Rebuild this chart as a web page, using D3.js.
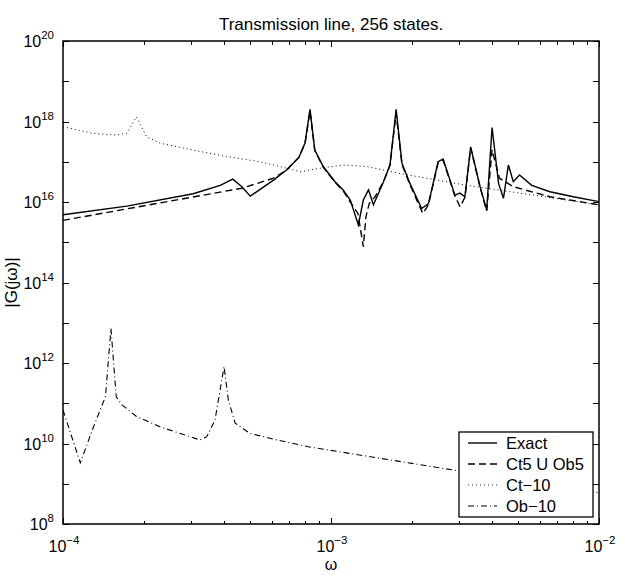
<!DOCTYPE html>
<html lang="en">
<head>
<meta charset="utf-8">
<title>Transmission line, 256 states.</title>
<style>
body {
  margin: 0;
  background: #fff;
}
svg text {
  font-family: "Liberation Sans", Arial, sans-serif;
  fill: #000;
}
.axis line {
  stroke: #000;
  stroke-width: 1;
  shape-rendering: crispEdges;
}
.curve {
  fill: none;
  stroke: #000;
}
</style>
</head>
<body>
<div id="chart"></div>
<script src="https://cdn.jsdelivr.net/npm/d3@7/dist/d3.min.js"></script>
<script>
// values
var exactW = [1.0e-4, 1.73e-4, 3.06e-4, 3.86e-4, 4.3e-4, 4.65e-4, 5.0e-4, 6.1e-4, 6.84e-4, 7.6e-4,
  8.0e-4, 8.35e-4, 8.7e-4, 9.35e-4, 1.035e-3, 1.11e-3, 1.18e-3, 1.265e-3, 1.32e-3, 1.38e-3,
  1.44e-3, 1.57e-3, 1.66e-3, 1.75e-3, 1.84e-3, 1.97e-3, 2.18e-3, 2.31e-3, 2.51e-3, 2.62e-3,
  2.9e-3, 3.03e-3, 3.16e-3, 3.32e-3, 3.6e-3, 3.81e-3, 3.99e-3, 4.22e-3, 4.4e-3, 4.59e-3,
  4.79e-3, 5.05e-3, 5.61e-3, 6.56e-3, 8.02e-3, 1.0e-2];
var exactG = [4.8e15, 7.9e15, 1.6e16, 2.6e16, 3.7e16, 2.4e16, 1.4e16, 3.5e16, 6.3e16, 1.3e17,
  2.9e17, 2.0e18, 1.95e17, 7.6e16, 3.2e16, 2.0e16, 1.12e16, 2.7e15, 1.12e16, 2.0e16,
  8.5e15, 3.2e16, 8.3e16, 2.0e18, 9.1e16, 2.9e16, 6.9e15, 9.1e15, 1.0e17, 1.17e17,
  1.48e16, 1.66e16, 1.35e16, 2.34e17, 2.4e16, 6.3e15, 7.1e17, 2.9e16, 1.23e16, 8.3e16,
  3.2e16, 4.7e16, 2.6e16, 1.8e16, 1.35e16, 1.02e16];

var ct5W = [1.0e-4, 4.65e-4, 6.1e-4, 6.84e-4, 7.6e-4, 8.0e-4, 8.35e-4, 8.7e-4, 9.35e-4, 1.035e-3,
  1.11e-3, 1.18e-3, 1.26e-3, 1.32e-3, 1.35e-3, 1.39e-3, 1.46e-3, 1.57e-3, 1.66e-3, 1.75e-3,
  1.84e-3, 1.97e-3, 2.2e-3, 2.31e-3, 2.51e-3, 2.62e-3, 2.9e-3, 3.03e-3, 3.16e-3, 3.32e-3,
  3.6e-3, 3.81e-3, 3.99e-3, 4.25e-3, 4.79e-3, 6.56e-3, 1.0e-2];
var ct5G = [3.5e15, 2.2e16, 3.9e16, 6.3e16, 1.3e17, 2.9e17, 1.8e18, 1.9e17, 7.4e16, 3.1e16,
  1.9e16, 1.0e16, 5.2e15, 7.8e14, 4.3e15, 9.3e15, 1.35e16, 3.2e16, 8.3e16, 1.6e18,
  8.5e16, 2.7e16, 5.2e15, 8.5e15, 9.5e16, 1.1e17, 1.4e16, 7.6e15, 1.3e16, 2.2e17,
  2.3e16, 6.0e15, 2.0e17, 3.9e16, 2.4e16, 1.35e16, 8.5e15];

var ct10W = [1.0e-4, 1.29e-4, 1.58e-4, 1.73e-4, 1.88e-4, 2.05e-4, 2.3e-4, 3.06e-4, 4.08e-4, 5.43e-4,
  7.23e-4, 7.66e-4, 9.1e-4, 1.11e-3, 1.36e-3, 1.81e-3, 3.21e-3, 5.69e-3, 1.0e-2];
var ct10G = [7.4e17, 5.1e17, 4.6e17, 5.1e17, 1.3e18, 4.2e17, 2.9e17, 1.95e17, 1.35e17, 1.0e17,
  6.3e16, 5.6e16, 6.9e16, 8.3e16, 7.6e16, 5.1e16, 2.6e16, 1.48e16, 8.5e15];

var ob10W = [1.0e-4, 1.16e-4, 1.30e-4, 1.44e-4, 1.51e-4, 1.58e-4, 1.66e-4, 1.88e-4, 2.3e-4, 3.24e-4,
  3.44e-4, 3.69e-4, 3.99e-4, 4.14e-4, 4.39e-4, 4.99e-4, 6.27e-4, 8.22e-4, 2.98e-3, 1.0e-2];
var ob10G = [6.8e10, 3.3e9, 2.6e10, 1.45e11, 7.2e12, 1.45e11, 9.1e10, 4.7e10, 2.6e10, 1.23e10,
  1.48e10, 3.8e10, 8.1e11, 1.2e11, 3.2e10, 1.78e10, 1.23e10, 8.3e9, 2.1e9, 6.0e8];

var seriesNames = ["Exact", "Ct5 U Ob5", "Ct\u221210", "Ob\u221210"];
var xTickExp = [-4, -3, -2];
var yTickExp = [8, 10, 12, 14, 16, 18, 20];

// layout
var W = 625, H = 577;
var margin = { top: 41, right: 26, bottom: 53, left: 63 },
    width = W - margin.left - margin.right,
    height = H - margin.top - margin.bottom;

var svg = d3.select("#chart").append("svg")
    .attr("width", W)
    .attr("height", H);

var g = svg.append("g")
    .attr("transform", "translate(" + margin.left + "," + margin.top + ")");

var x = d3.scaleLog().domain([1e-4, 1e-2]).range([0, width]);
var y = d3.scaleLog().domain([1e8, 1e20]).range([height, 0]);

// tick positions
var xMajor = xTickExp.map(function(e) { return Math.pow(10, e); });
var xMinor = [];
xTickExp.slice(0, -1).forEach(function(e) {
  for (var k = 2; k <= 9; k++) xMinor.push(k * Math.pow(10, e));
});
var yMajor = d3.range(8, 21).map(function(e) { return Math.pow(10, e); });

function ticks(axis, vals, size, tr) {
  g.append("g")
      .attr("class", "axis")
      .attr("transform", tr || null)
      .call(axis.tickValues(vals).tickSize(-size).tickSizeOuter(0).tickFormat(""))
      .call(function(s) { s.select(".domain").remove(); });
}
ticks(d3.axisBottom(x), xMajor, 6, "translate(0," + height + ")");
ticks(d3.axisBottom(x), xMinor, 3.5, "translate(0," + height + ")");
ticks(d3.axisTop(x), xMajor, 6);
ticks(d3.axisTop(x), xMinor, 3.5);
ticks(d3.axisLeft(y), yMajor, 6);
ticks(d3.axisRight(y), yMajor, 6, "translate(" + width + ",0)");

// curves
var line = d3.line()
    .x(function(d) { return x(d[0]); })
    .y(function(d) { return y(d[1]); });

function zip(a, b) { return a.map(function(v, i) { return [v, b[i]]; }); }

var curves = [
  { w: exactW, v: exactG, dash: null, sw: 1.4, col: "#000" },
  { w: ct5W, v: ct5G, dash: "7,4", sw: 1.4, col: "#000" },
  { w: ct10W, v: ct10G, dash: "1,3", sw: 1, col: "#333" },
  { w: ob10W, v: ob10G, dash: "6,3,1,3", sw: 1.1, col: "#000" }
];

g.append("clipPath").attr("id", "clip")
  .append("rect").attr("width", width).attr("height", height);

g.append("g").attr("clip-path", "url(#clip)")
  .selectAll("path")
  .data(curves)
  .enter().append("path")
    .attr("class", "curve")
    .attr("d", function(c) { return line(zip(c.w, c.v)); })
    .attr("stroke", function(c) { return c.col; })
    .attr("stroke-width", function(c) { return c.sw; })
    .attr("stroke-dasharray", function(c) { return c.dash; });

// frame
g.append("rect")
    .attr("width", width)
    .attr("height", height)
    .attr("fill", "none")
    .attr("stroke", "#000")
    .attr("stroke-width", 1.5);

// tick labels with superscripts
function pow10Label(sel, e) {
  sel.append("tspan").text("10");
  sel.append("tspan")
      .attr("dy", -8)
      .attr("font-size", 11.5)
      .text(String(e).replace("-", "\u2212"));
}

xTickExp.forEach(function(e) {
  g.append("text")
      .attr("x", x(Math.pow(10, e)) + 1)
      .attr("y", height + 28)
      .attr("text-anchor", "middle")
      .attr("font-size", 16)
      .call(pow10Label, e);
});

yTickExp.forEach(function(e) {
  g.append("text")
      .attr("x", -9)
      .attr("y", y(Math.pow(10, e)) + 6)
      .attr("text-anchor", "end")
      .attr("font-size", 16)
      .call(pow10Label, e);
});

// titles
g.append("text")
    .attr("x", width / 2)
    .attr("y", -11)
    .attr("text-anchor", "middle")
    .attr("font-size", 17)
    .text("Transmission line, 256 states.");

g.append("text")
    .attr("x", width / 2)
    .attr("y", height + 46)
    .attr("text-anchor", "middle")
    .attr("font-size", 16)
    .text("\u03c9");

g.append("text")
    .attr("transform", "translate(" + (-46) + "," + (height / 2) + ") rotate(-90)")
    .attr("text-anchor", "middle")
    .attr("font-size", 17)
    .text("|G(j\u03c9)|");

// legend
var lg = g.append("g")
    .attr("transform", "translate(" + (459 - margin.left) + "," + (432 - margin.top) + ")");

lg.append("rect")
    .attr("width", 134)
    .attr("height", 85)
    .attr("fill", "#fff")
    .attr("stroke", "#000")
    .attr("stroke-width", 1.3);

var rows = lg.selectAll(".row")
    .data(curves)
  .enter().append("g")
    .attr("class", "row")
    .attr("transform", function(c, i) { return "translate(0," + (11 + i * 21) + ")"; });

rows.append("line")
    .attr("x1", 9).attr("x2", 38)
    .attr("stroke", function(c) { return c.col; })
    .attr("stroke-width", function(c) { return c.sw; })
    .attr("stroke-dasharray", function(c) { return c.dash; });

rows.append("text")
    .attr("x", 47)
    .attr("y", 6)
    .attr("font-size", 16.5)
    .text(function(c, i) { return seriesNames[i]; });
</script>
</body>
</html>
